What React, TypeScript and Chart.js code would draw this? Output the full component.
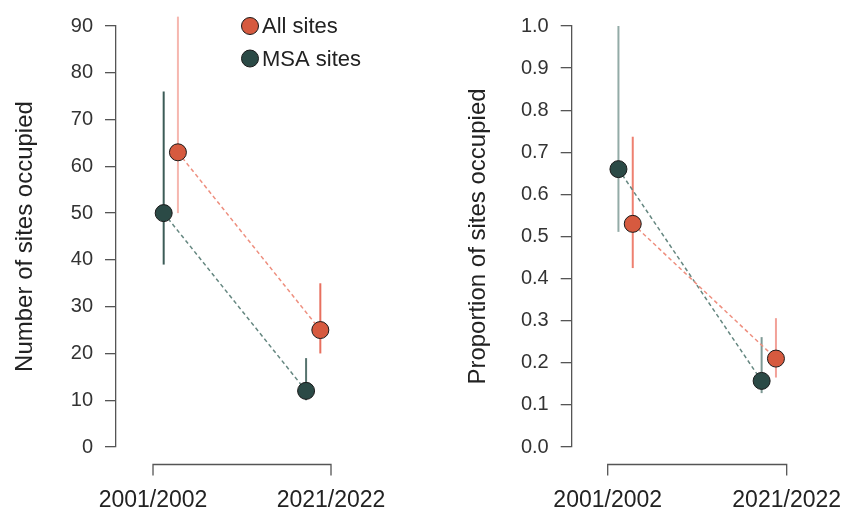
import React, { useEffect, useRef } from "react";
import { Chart, registerables } from "chart.js";

Chart.register(...registerables);

// ---------- data ----------
const categories = ["2001/2002", "2021/2022"];
const categoryPositions = [1, 2];
const seriesNames = ["All sites", "MSA sites"];
// jittered x positions of each series around the two categories
const allSitesX = [1.14, 1.94];
const msaSitesX = [1.06, 1.86];

// Panel 1: number of sites occupied
const countAll = [63, 25];
const countAllLow = [50, 20];
const countAllHigh = [92, 35];
const countMsa = [50, 12];
const countMsaLow = [39, 10];
const countMsaHigh = [76, 19];
const countTicks = [0, 10, 20, 30, 40, 50, 60, 70, 80, 90];
const countTickLabels = ["0", "10", "20", "30", "40", "50", "60", "70", "80", "90"];

// Panel 2: proportion of sites occupied
const propAll = [0.53, 0.21];
const propAllLow = [0.425, 0.165];
const propAllHigh = [0.737, 0.306];
const propMsa = [0.66, 0.157];
const propMsaLow = [0.511, 0.128];
const propMsaHigh = [1.0, 0.261];
const propTicks = [0, 0.1, 0.2, 0.3, 0.4, 0.5, 0.6, 0.7, 0.8, 0.9, 1.0];
const propTickLabels = ["0.0", "0.1", "0.2", "0.3", "0.4", "0.5", "0.6", "0.7", "0.8", "0.9", "1.0"];

// ---------- styles ----------
const ALL_COLOR = "#D65A3F";
const MSA_COLOR = "#2B4A46";
const ALL_LINE = "#EE8F7F";
const MSA_LINE = "#658780";
const AXIS_COLOR = "#555555";
const FONT = "'Liberation Sans', Arial, Helvetica, sans-serif";

type Panel = {
  title: string;
  all: number[];
  allLow: number[];
  allHigh: number[];
  msa: number[];
  msaLow: number[];
  msaHigh: number[];
  ticks: number[];
  tickLabels: string[];
  yMin: number;
  yMax: number;
  xMin: number;
  xMax: number;
  axisWidth: number;
  titlePad: number;
  allBarColors: string[];
  msaBarColors: string[];
  legend: boolean;
};

const bracketPlugin = {
  id: "rBracket",
  afterDraw(chart: any) {
    const { ctx, chartArea } = chart;
    const xs = chart.scales.x;
    const x1 = xs.getPixelForValue(categoryPositions[0]);
    const x2 = xs.getPixelForValue(categoryPositions[categoryPositions.length - 1]);
    const y = chartArea.bottom + 17.5;
    ctx.save();
    ctx.strokeStyle = AXIS_COLOR;
    ctx.lineWidth = 1.3;
    ctx.beginPath();
    ctx.moveTo(x1, y + 11);
    ctx.lineTo(x1, y);
    ctx.lineTo(x2, y);
    ctx.lineTo(x2, y + 11);
    ctx.stroke();
    ctx.restore();
  },
};

const legendPlugin = {
  id: "rLegend",
  afterDraw(chart: any, _args: any, opts: any) {
    if (!opts || !opts.show) return;
    const { ctx } = chart;
    const items = [
      { label: seriesNames[0], color: ALL_COLOR },
      { label: seriesNames[1], color: MSA_COLOR },
    ];
    ctx.save();
    items.forEach((it, i) => {
      const cy = 26 + i * 32.5;
      const cx = 250;
      ctx.beginPath();
      ctx.arc(cx, cy, 8.5, 0, Math.PI * 2);
      ctx.fillStyle = it.color;
      ctx.fill();
      ctx.lineWidth = 1;
      ctx.strokeStyle = "#1a1a1a";
      ctx.stroke();
      ctx.fillStyle = "#222222";
      ctx.font = `22px ${FONT}`;
      ctx.textBaseline = "middle";
      ctx.textAlign = "left";
      ctx.fillText(it.label, 262, cy + 1);
    });
    ctx.restore();
  },
};

function buildConfig(p: Panel): any {
  const errorBar = (x: number, lo: number, hi: number, color: string) => ({
    type: "line",
    data: [
      { x, y: lo },
      { x, y: hi },
    ],
    borderColor: color,
    borderWidth: 2,
    pointRadius: 0,
    clip: false,
    order: 5,
  });
  const bars: any[] = [];
  allSitesX.forEach((x, i) => bars.push(errorBar(x, p.allLow[i], p.allHigh[i], p.allBarColors[i])));
  msaSitesX.forEach((x, i) => bars.push(errorBar(x, p.msaLow[i], p.msaHigh[i], p.msaBarColors[i])));

  const series = (xs: number[], ys: number[], color: string, line: string, label: string) => ({
    type: "line",
    label,
    data: xs.map((x, i) => ({ x, y: ys[i] })),
    borderColor: line,
    borderWidth: 1.5,
    borderDash: [4, 3],
    pointRadius: 8.5,
    pointBackgroundColor: color,
    pointBorderColor: "#1a1a1a",
    pointBorderWidth: 1,
    clip: false,
    order: 0,
  });

  return {
    type: "line",
    data: {
      datasets: [
        series(allSitesX, p.all, ALL_COLOR, ALL_LINE, seriesNames[0]),
        series(msaSitesX, p.msa, MSA_COLOR, MSA_LINE, seriesNames[1]),
        ...bars,
      ],
    },
    options: {
      responsive: false,
      animation: false,
      events: [],
      layout: { autoPadding: false, padding: { top: 26, left: 0, right: 0, bottom: 0 } },
      plugins: {
        legend: { display: false },
        tooltip: { enabled: false },
        rLegend: { show: p.legend },
      },
      scales: {
        x: {
          type: "linear",
          min: p.xMin,
          max: p.xMax,
          afterBuildTicks: (s: any) => {
            s.ticks = categoryPositions.map((v) => ({ value: v }));
          },
          afterFit: (s: any) => {
            s.height = 60;
            s.paddingLeft = 0;
            s.paddingRight = 0;
          },
          ticks: {
            callback: (_v: any, i: number) => categories[i],
            autoSkip: false,
            maxRotation: 0,
            minRotation: 0,
            padding: 32,
            color: "#222222",
            font: { family: FONT, size: 23 },
          },
          grid: { display: false },
          border: { display: false },
        },
        y: {
          type: "linear",
          min: p.yMin,
          max: p.yMax,
          afterBuildTicks: (s: any) => {
            s.ticks = p.ticks.map((v) => ({ value: v }));
          },
          afterFit: (s: any) => {
            s.width = p.axisWidth;
            s.paddingTop = 0;
            s.paddingBottom = 0;
          },
          ticks: {
            callback: (_v: any, i: number) => p.tickLabels[i],
            autoSkip: false,
            padding: 12,
            color: "#333333",
            font: { family: FONT, size: 20 },
          },
          grid: {
            display: true,
            drawOnChartArea: false,
            drawTicks: true,
            tickLength: 11,
            color: AXIS_COLOR,
            lineWidth: 1.3,
          },
          border: { display: true, color: AXIS_COLOR, width: 1.3 },
          title: {
            display: true,
            text: p.title,
            color: "#222222",
            font: { family: FONT, size: 24 },
            padding: { top: p.titlePad, bottom: 0 },
          },
        },
      },
    },
    plugins: [bracketPlugin, legendPlugin],
  };
}

const panels: Panel[] = [
  {
    title: "Number of sites occupied",
    all: countAll,
    allLow: countAllLow,
    allHigh: countAllHigh,
    msa: countMsa,
    msaLow: countMsaLow,
    msaHigh: countMsaHigh,
    ticks: countTicks,
    tickLabels: countTickLabels,
    yMin: 0,
    yMax: 90,
    xMin: 0.7921,
    xMax: 2.5056,
    axisWidth: 116,
    titlePad: 11,
    allBarColors: ["#F6B7AF", "#E8705F"],
    msaBarColors: ["#3C5C57", "#56736E"],
    legend: true,
  },
  {
    title: "Proportion of sites occupied",
    all: propAll,
    allLow: propAllLow,
    allHigh: propAllHigh,
    msa: propMsa,
    msaLow: propMsaLow,
    msaHigh: propMsaHigh,
    ticks: propTicks,
    tickLabels: propTickLabels,
    yMin: 0,
    yMax: 1,
    xMin: 0.7989,
    xMax: 2.309,
    axisWidth: 150.7,
    titlePad: 43,
    allBarColors: ["#EE8070", "#F2A198"],
    msaBarColors: ["#93ABA7", "#7E9994"],
    legend: false,
  },
];

function PanelChart({ panel }: { panel: Panel }) {
  const ref = useRef<HTMLCanvasElement | null>(null);
  useEffect(() => {
    if (!ref.current) return;
    const chart = new Chart(ref.current, buildConfig(panel));
    return () => chart.destroy();
  }, [panel]);
  return (
    <canvas
      ref={ref}
      width={421}
      height={507}
      style={{ width: 421, height: 507, display: "block" }}
    />
  );
}

export default function App() {
  return (
    <div
      style={{
        position: "absolute",
        left: 0,
        top: 0,
        width: 842,
        height: 507,
        display: "flex",
        background: "#ffffff",
      }}
    >
      {panels.map((p, i) => (
        <PanelChart key={i} panel={p} />
      ))}
    </div>
  );
}
